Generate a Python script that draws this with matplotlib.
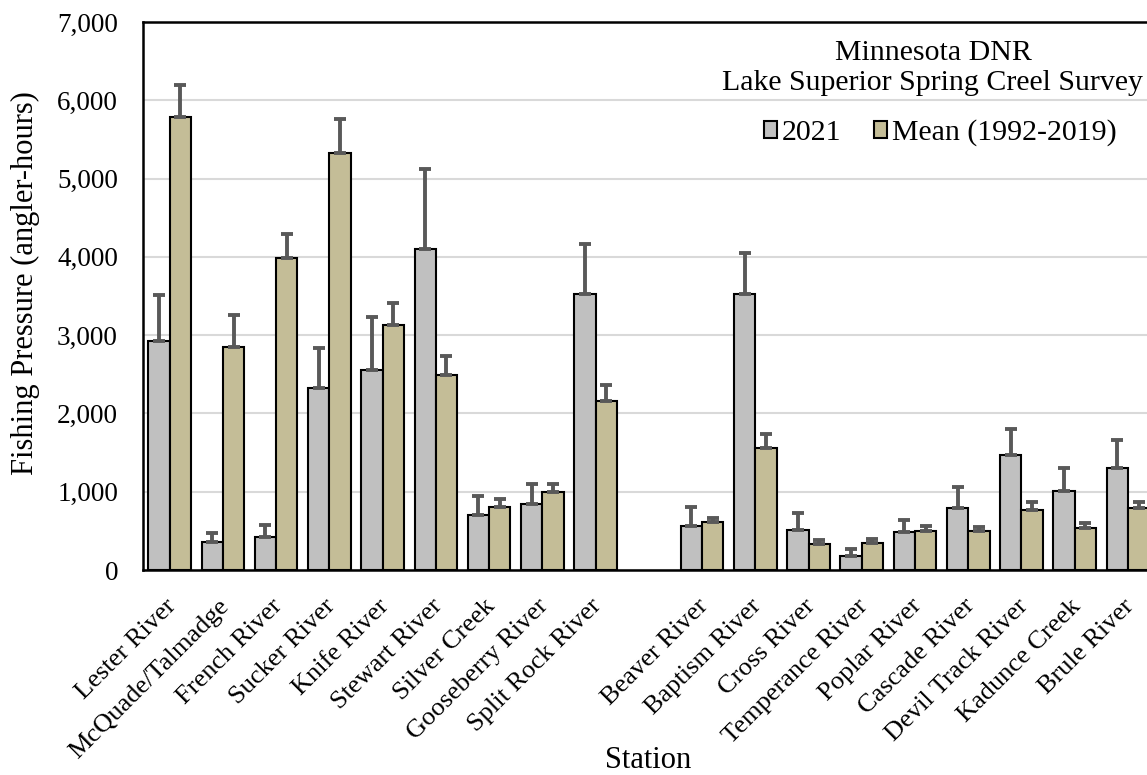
import matplotlib
matplotlib.use("Agg")
import matplotlib.pyplot as plt
import numpy as np
from matplotlib.ticker import FuncFormatter
from matplotlib.transforms import ScaledTranslation

stations = ["Lester River", "McQuade/Talmadge", "French River", "Sucker River",
            "Knife River", "Stewart River", "Silver Creek", "Gooseberry River",
            "Split Rock River", "",
            "Beaver River", "Baptism River", "Cross River", "Temperance River",
            "Poplar River", "Cascade River", "Devil Track River", "Kadunce Creek",
            "Brule River"]

val_2021 = [2930, 362, 417, 2330, 2560, 4100, 702, 840, 3530, np.nan,
            566, 3530, 515, 175, 485, 796, 1470, 1010, 1300]
err_2021 = [582, 115, 158, 500, 672, 1025, 243, 255, 637, np.nan,
            243, 515, 209, 93, 154, 268, 328, 290, 365]
val_mean = [5790, 2852, 3990, 5326, 3130, 2486, 809, 992, 2163, np.nan,
            609, 1562, 336, 349, 502, 502, 762, 532, 788]
err_mean = [404, 405, 302, 434, 284, 251, 102, 102, 195, np.nan,
            59, 179, 51, 43, 60, 43, 106, 68, 77]

plt.rcParams['font.family'] = ['Liberation Serif', 'DejaVu Serif']

W, H = 1147, 775
fig = plt.figure(figsize=(W / 100, H / 100), dpi=100)
left, right, top, bottom = 143, 1154.6, 22, 570
ax = fig.add_axes([left / W, 1 - bottom / H, (right - left) / W, (bottom - top) / H])

x = np.arange(len(stations))
bw = 0.4
ekw = dict(ecolor="#595959", elinewidth=2.8, capsize=4, capthick=2.8)
ax.bar(x - bw / 2, val_2021, bw, color="#C0C0C0", edgecolor="black", linewidth=1.5,
       yerr=[np.zeros(len(x)), err_2021], error_kw=ekw, label="2021", zorder=3)
ax.bar(x + bw / 2, val_mean, bw, color="#C4BD97", edgecolor="black", linewidth=1.5,
       yerr=[np.zeros(len(x)), err_mean], error_kw=ekw, label="Mean (1992-2019)", zorder=3)

ax.set_xlim(-0.5, len(stations) - 0.5)
ax.set_ylim(0, 7000)
ax.set_yticks(np.arange(0, 7001, 1000))
ax.yaxis.set_major_formatter(FuncFormatter(lambda v, p: f"{int(v):,}"))
ax.grid(axis="y", color="#D9D9D9", linewidth=1.5, zorder=0)
ax.set_axisbelow(True)
for s in ["left", "top", "bottom"]:
    ax.spines[s].set_linewidth(1.8)
    ax.spines[s].set_color("black")
ax.spines["right"].set_visible(False)
ax.tick_params(axis="y", length=0, labelsize=19.5, pad=18)
ax.tick_params(axis="x", length=0, pad=18)
ax.set_xticks(x)
ax.set_xticklabels(stations, rotation=45, ha="right", rotation_mode="anchor", fontsize=19)
off = ScaledTranslation(-5 / 100, 0, fig.dpi_scale_trans)
for lab in ax.get_xticklabels():
    lab.set_transform(lab.get_transform() + off)

fig.text(25 / W, 1 - 283 / H, "Fishing Pressure (angler-hours)", fontsize=22,
         rotation=90, ha="center", va="center")
fig.text(648 / W, 1 - 760 / H, "Station", fontsize=22, ha="center", va="center")

fig.text(933 / W, 1 - 68 / H, "Minnesota DNR\nLake Superior Spring Creel Survey",
         fontsize=21.5, ha="center", va="center", linespacing=1.2)
leg = ax.legend(loc="center", bbox_to_anchor=(940 / W, 1 - 133 / H),
                bbox_transform=fig.transFigure, ncol=2, frameon=False, fontsize=21.5,
                handlelength=0.45, handleheight=0.45, handletextpad=0.15,
                columnspacing=1.1, borderpad=0)

fig.savefig("out.png", dpi=100)
